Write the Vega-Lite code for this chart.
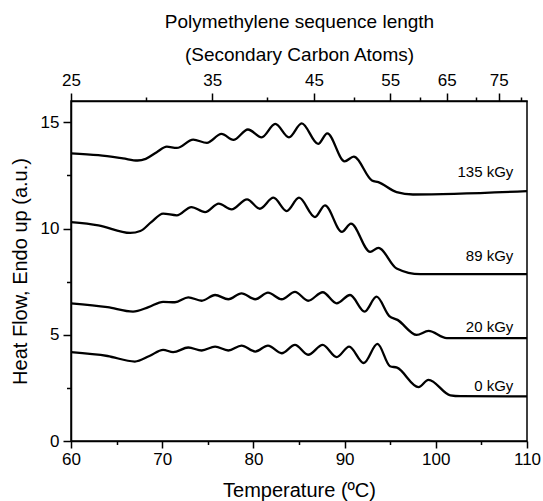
{
  "$schema": "https://vega.github.io/schema/vega-lite/v6.json",
  "width": 456,
  "height": 340,
  "autosize": "none",
  "padding": {"left": 71, "top": 101, "right": 16, "bottom": 60},
  "config": {
    "font": "Liberation Sans",
    "view": {"stroke": "black", "strokeWidth": 1.5},
    "axis": {
      "domainColor": "black", "domainWidth": 1.5,
      "tickColor": "black", "tickWidth": 1.5,
      "labelColor": "black", "titleColor": "black",
      "grid": false, "labelFontSize": 17, "titleFontSize": 20,
      "titleFontWeight": "normal", "labelFont": "Liberation Sans", "titleFont": "Liberation Sans"
    }
  },
  "layer": [
    {
      "data": {"values": [
        {"s": "135", "t": 60, "v": 13.54}, {"s": "135", "t": 63, "v": 13.45}, {"s": "135", "t": 65.7, "v": 13.3}, {"s": "135", "t": 67.3, "v": 13.2}, {"s": "135", "t": 68.2, "v": 13.28}, {"s": "135", "t": 69.4, "v": 13.59}, {"s": "135", "t": 70.5, "v": 13.85}, {"s": "135", "t": 71.6, "v": 13.79}, {"s": "135", "t": 73.4, "v": 14.18}, {"s": "135", "t": 74.9, "v": 14.03}, {"s": "135", "t": 76.5, "v": 14.45}, {"s": "135", "t": 77.8, "v": 14.17}, {"s": "135", "t": 79.4, "v": 14.66}, {"s": "135", "t": 80.9, "v": 14.29}, {"s": "135", "t": 82.4, "v": 14.92}, {"s": "135", "t": 83.9, "v": 14.29}, {"s": "135", "t": 85.3, "v": 14.95}, {"s": "135", "t": 87.1, "v": 13.98}, {"s": "135", "t": 88.1, "v": 14.48}, {"s": "135", "t": 90.0, "v": 13.16}, {"s": "135", "t": 91.0, "v": 13.38}, {"s": "135", "t": 93.0, "v": 12.26}, {"s": "135", "t": 93.7, "v": 12.18}, {"s": "135", "t": 95.7, "v": 11.71}, {"s": "135", "t": 97.5, "v": 11.6}, {"s": "135", "t": 110, "v": 11.76},
        {"s": "89", "t": 60, "v": 10.3}, {"s": "89", "t": 63, "v": 10.15}, {"s": "89", "t": 66.5, "v": 9.79}, {"s": "89", "t": 67.6, "v": 9.88}, {"s": "89", "t": 68.8, "v": 10.3}, {"s": "89", "t": 70.1, "v": 10.7}, {"s": "89", "t": 71.6, "v": 10.62}, {"s": "89", "t": 73.2, "v": 11.01}, {"s": "89", "t": 74.7, "v": 10.77}, {"s": "89", "t": 76.2, "v": 11.17}, {"s": "89", "t": 77.6, "v": 10.9}, {"s": "89", "t": 79.3, "v": 11.37}, {"s": "89", "t": 80.7, "v": 10.93}, {"s": "89", "t": 82.2, "v": 11.45}, {"s": "89", "t": 83.65, "v": 10.82}, {"s": "89", "t": 85.0, "v": 11.45}, {"s": "89", "t": 86.75, "v": 10.54}, {"s": "89", "t": 87.85, "v": 11.09}, {"s": "89", "t": 89.7, "v": 9.84}, {"s": "89", "t": 90.7, "v": 10.23}, {"s": "89", "t": 92.8, "v": 8.9}, {"s": "89", "t": 93.7, "v": 9.09}, {"s": "89", "t": 95.7, "v": 8.12}, {"s": "89", "t": 98.3, "v": 7.85}, {"s": "89", "t": 110, "v": 7.85},
        {"s": "20", "t": 60, "v": 6.48}, {"s": "20", "t": 64, "v": 6.3}, {"s": "20", "t": 66.8, "v": 6.09}, {"s": "20", "t": 68.5, "v": 6.3}, {"s": "20", "t": 70.1, "v": 6.55}, {"s": "20", "t": 71.4, "v": 6.53}, {"s": "20", "t": 72.86, "v": 6.76}, {"s": "20", "t": 74.33, "v": 6.6}, {"s": "20", "t": 75.8, "v": 6.87}, {"s": "20", "t": 77.25, "v": 6.67}, {"s": "20", "t": 78.7, "v": 6.95}, {"s": "20", "t": 80.2, "v": 6.67}, {"s": "20", "t": 81.6, "v": 6.98}, {"s": "20", "t": 83.1, "v": 6.67}, {"s": "20", "t": 84.56, "v": 7.02}, {"s": "20", "t": 86.0, "v": 6.6}, {"s": "20", "t": 87.6, "v": 7.0}, {"s": "20", "t": 89.13, "v": 6.48}, {"s": "20", "t": 90.6, "v": 6.87}, {"s": "20", "t": 92.2, "v": 6.09}, {"s": "20", "t": 93.5, "v": 6.79}, {"s": "20", "t": 94.9, "v": 5.88}, {"s": "20", "t": 95.8, "v": 5.7}, {"s": "20", "t": 97.9, "v": 4.99}, {"s": "20", "t": 99.2, "v": 5.18}, {"s": "20", "t": 101.2, "v": 4.84}, {"s": "20", "t": 110, "v": 4.84},
        {"s": "0", "t": 60, "v": 4.18}, {"s": "0", "t": 64, "v": 4.0}, {"s": "0", "t": 67.0, "v": 3.74}, {"s": "0", "t": 68.6, "v": 4.0}, {"s": "0", "t": 70.1, "v": 4.29}, {"s": "0", "t": 71.2, "v": 4.18}, {"s": "0", "t": 72.86, "v": 4.4}, {"s": "0", "t": 74.33, "v": 4.26}, {"s": "0", "t": 75.8, "v": 4.44}, {"s": "0", "t": 77.25, "v": 4.26}, {"s": "0", "t": 78.7, "v": 4.49}, {"s": "0", "t": 80.2, "v": 4.21}, {"s": "0", "t": 81.6, "v": 4.49}, {"s": "0", "t": 83.1, "v": 4.13}, {"s": "0", "t": 84.56, "v": 4.52}, {"s": "0", "t": 86.0, "v": 4.06}, {"s": "0", "t": 87.6, "v": 4.52}, {"s": "0", "t": 89.13, "v": 3.95}, {"s": "0", "t": 90.5, "v": 4.44}, {"s": "0", "t": 92.1, "v": 3.67}, {"s": "0", "t": 93.6, "v": 4.57}, {"s": "0", "t": 94.98, "v": 3.52}, {"s": "0", "t": 95.75, "v": 3.45}, {"s": "0", "t": 98.1, "v": 2.54}, {"s": "0", "t": 99.2, "v": 2.88}, {"s": "0", "t": 101.6, "v": 2.15}, {"s": "0", "t": 102.7, "v": 2.11}, {"s": "0", "t": 110, "v": 2.1}
      ]},
      "mark": {"type": "line", "interpolate": "monotone", "color": "black", "strokeWidth": 2.3},
      "encoding": {
        "x": {
          "field": "t", "type": "quantitative",
          "scale": {"domain": [60, 110], "nice": false, "zero": false},
          "axis": {
            "orient": "bottom",
            "values": [60, 65, 70, 75, 80, 85, 90, 95, 100, 105, 110],
            "labelExpr": "datum.value % 10 == 0 ? datum.label : ''",
            "tickSize": {"condition": {"test": "datum.value % 10 != 0", "value": 3.5}, "value": 7},
            "labelPadding": 3,
            "labelFlush": false,
            "title": "Temperature (ºC)",
            "titlePadding": 13
          }
        },
        "y": {
          "field": "v", "type": "quantitative",
          "scale": {"domain": [0, 16], "nice": false},
          "axis": {
            "values": [0, 2.5, 5, 7.5, 10, 12.5, 15],
            "labelExpr": "datum.value % 5 == 0 ? datum.label : ''",
            "tickSize": {"condition": {"test": "datum.value % 5 != 0", "value": 4.5}, "value": 8},
            "labelPadding": 4,
            "labelFlush": false,
            "title": "Heat Flow, Endo up (a.u.)",
            "titlePadding": 10
          }
        },
        "detail": {"field": "s"}
      }
    },
    {
      "data": {"values": [
        {"label": "135 kGy", "t": 108.5, "v": 12.65},
        {"label": "89 kGy", "t": 108.5, "v": 8.71},
        {"label": "20 kGy", "t": 108.5, "v": 5.38},
        {"label": "0 kGy", "t": 108.5, "v": 2.57}
      ]},
      "mark": {"type": "text", "align": "right", "baseline": "middle", "fontSize": 15, "font": "Liberation Sans", "color": "black"},
      "encoding": {
        "x": {
          "field": "t", "type": "quantitative",
          "scale": {"domain": [60, 110], "nice": false, "zero": false},
          "axis": {
            "orient": "top",
            "values": [60, 68.23, 75.49, 81.45, 86.64, 91.05, 95.0, 98.27, 101.2, 104.42, 106.89, 109.35],
            "labelExpr": "datum.value < 62 ? '25' : (datum.value > 75 && datum.value < 76) ? '35' : (datum.value > 86 && datum.value < 87) ? '45' : (datum.value > 94.5 && datum.value < 95.5) ? '55' : (datum.value > 101 && datum.value < 101.5) ? '65' : (datum.value > 106.5 && datum.value < 107.5) ? '75' : ''",
            "tickSize": {"condition": {"test": "datum.value < 62 || (datum.value > 75 && datum.value < 76) || (datum.value > 86 && datum.value < 87) || (datum.value > 94.5 && datum.value < 95.5) || (datum.value > 101 && datum.value < 101.5) || (datum.value > 106.5 && datum.value < 107.5)", "value": 8}, "value": 4},
            "labelPadding": 4,
            "labelFlush": false,
            "title": ["Polymethylene sequence length", "(Secondary Carbon Atoms)"],
            "titleFontSize": 19,
            "titleLineHeight": 33,
            "titlePadding": 7
          }
        },
        "y": {"field": "v", "type": "quantitative", "scale": {"domain": [0, 16], "nice": false}},
        "text": {"field": "label"}
      }
    }
  ],
  "resolve": {"scale": {"x": "independent"}}
}
